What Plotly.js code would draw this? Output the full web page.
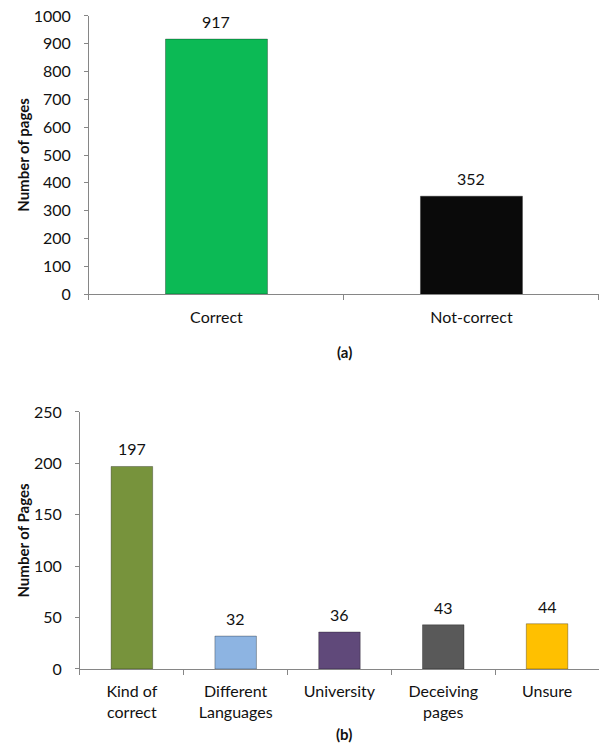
<!DOCTYPE html>
<html>
<head>
<meta charset="utf-8">
<script src="https://cdn.plot.ly/plotly-3.0.1.min.js"></script>
<style>
  html, body { margin: 0; padding: 0; background: #ffffff; }
  #chart { width: 605px; height: 751px; }
</style>
</head>
<body>
<div id="chart"></div>
<script>
// (a) correctness of classified pages
const catsA = ['Correct', 'Not-correct'];
const valsA = [917, 352];
const colorsA = ['#0cba55', '#0a0a0a'];

// (b) breakdown of the not-correct pages
const catsB = ['Kind of<br>correct', 'Different<br>Languages', 'University', 'Deceiving<br>pages', 'Unsure'];
const valsB = [197, 32, 36, 43, 44];
const colorsB = ['#77933c', '#8db4e2', '#60497a', '#595959', '#ffc000'];

const FONT = 'Lato, "Noto Sans", sans-serif';
const AXIS_GREY = '#868686';
const TEXT = '#111111';

const traces = [
  {
    type: 'bar', x: catsA, y: valsA, xaxis: 'x', yaxis: 'y',
    width: 0.4,
    marker: { color: colorsA, line: { color: 'rgba(0,0,0,0.3)', width: 1 } },
    hoverinfo: 'x+y'
  },
  {
    type: 'bar', x: catsB, y: valsB, xaxis: 'x2', yaxis: 'y2',
    width: 0.4,
    marker: { color: colorsB, line: { color: 'rgba(0,0,0,0.3)', width: 1 } },
    hoverinfo: 'x+y'
  }
];

// value labels above each bar
const annotations = [];
catsA.forEach((c, i) => annotations.push({
  x: c, y: valsA[i], xref: 'x', yref: 'y', text: String(valsA[i]),
  showarrow: false, yanchor: 'bottom', yshift: 6,
  font: { family: FONT, size: 16, color: TEXT }
}));
catsB.forEach((c, i) => annotations.push({
  x: c, y: valsB[i], xref: 'x2', yref: 'y2', text: String(valsB[i]),
  showarrow: false, yanchor: 'bottom', yshift: 6,
  font: { family: FONT, size: 16, color: TEXT }
}));
// panel captions
annotations.push({
  x: 0.5686, y: 0.5313, xref: 'paper', yref: 'paper', text: '<b>(a)</b>',
  showarrow: false, xanchor: 'center', yanchor: 'middle',
  font: { family: FONT, size: 15, color: TEXT }
});
annotations.push({
  x: 0.5686, y: 0.0226, xref: 'paper', yref: 'paper', text: '<b>(b)</b>',
  showarrow: false, xanchor: 'center', yanchor: 'middle',
  font: { family: FONT, size: 15, color: TEXT }
});

const xCommon = {
  type: 'category',
  showline: true, linecolor: AXIS_GREY, linewidth: 1,
  ticks: 'outside', tickson: 'boundaries', ticklen: 5, tickcolor: AXIS_GREY,
  showgrid: false, zeroline: false,
  tickfont: { family: FONT, size: 16, color: TEXT },
  fixedrange: true
};
const yCommon = {
  showline: true, linecolor: AXIS_GREY, linewidth: 1,
  ticks: 'outside', ticklen: 4, tickcolor: AXIS_GREY,
  showgrid: false, zeroline: false,
  tickfont: { family: FONT, size: 16, color: TEXT },
  ticklabelstandoff: 10,
  fixedrange: true
};

const layout = {
  width: 605, height: 751,
  margin: { l: 0, r: 0, t: 0, b: 0 },
  paper_bgcolor: '#ffffff', plot_bgcolor: '#ffffff',
  showlegend: false,
  bargap: 0.6,
  font: { family: FONT, color: TEXT },
  xaxis: Object.assign({}, xCommon, {
    domain: [0.1471, 0.990], anchor: 'y', ticklabelstandoff: 9
  }),
  yaxis: Object.assign({}, yCommon, {
    domain: [0.6085, 0.9787], anchor: 'x', range: [0, 1000], dtick: 100,
    title: { text: '<b>Number of pages</b>', font: { family: FONT, size: 15, color: TEXT }, standoff: 0 }
  }),
  xaxis2: Object.assign({}, xCommon, {
    domain: [0.1322, 0.990], anchor: 'y2', ticklabelstandoff: 8
  }),
  yaxis2: Object.assign({}, yCommon, {
    domain: [0.1092, 0.4514], anchor: 'x2', range: [0, 250], dtick: 50,
    title: { text: '<b>Number of Pages</b>', font: { family: FONT, size: 15, color: TEXT }, standoff: 0 }
  }),
  annotations: annotations
};

Plotly.newPlot('chart', traces, layout, { displayModeBar: false, staticPlot: true });
</script>
</body>
</html>
